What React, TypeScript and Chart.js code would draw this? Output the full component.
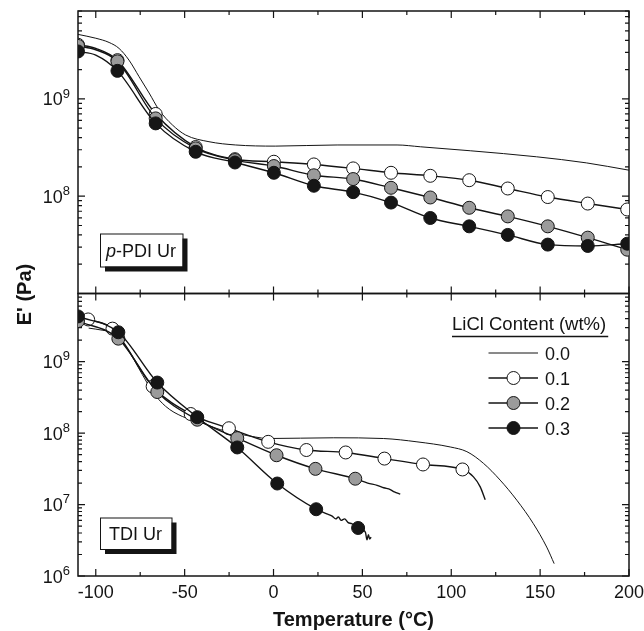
import { useEffect, useRef } from 'react';
import { Chart, registerables } from 'chart.js';

Chart.register(...registerables);

const FONT = '"Liberation Sans", Arial, Helvetica, sans-serif';

// ---- axes ----
const xMin = -110;
const xMax = 200;
const xTicksMajor = [-100, -50, 0, 50, 100, 150, 200];
const xTicksMinor = [-75, -25, 25, 75, 125, 175];
const topYMin = 1e7;
const topYMax = 8e9;
const botYMin = 1e6;
const botYMax = 9e9;
const topExponents = [8, 9];
const botExponents = [6, 7, 8, 9];

// ---- legend ----
const legendTitle = 'LiCl Content (wt%)';
const seriesLabels = ['0.0', '0.1', '0.2', '0.3'];
const seriesFills = ['', '#ffffff', '#9b9b9b', '#161616'];

// ---- top panel: p-PDI Ur ----
const topTemp00 = [-110, -100, -92.5, -86.9, -81.3, -75.7, -70, -64.4, -56.9, -49.4, -36.3, -21.3, 1, 35.8, 69.5, 82.6, 110.7, 148, 176, 200];
const topE00 = [4.6e9, 4.2e9, 3.8e9, 3.3e9, 2.5e9, 1.7e9, 1.15e9, 7.7e8, 5.4e8, 4.25e8, 3.63e8, 3.36e8, 3.27e8, 3.36e8, 3.36e8, 3.22e8, 2.93e8, 2.54e8, 2.2e8, 1.85e8];

const topTemp = [-110, -100, -87.8, -66.3, -43.8, -21.7, 0.2, 22.7, 44.8, 66.1, 88.2, 110.1, 131.8, 154.3, 176.8, 199];
const topMarkers = [0, 2, 3, 4, 5, 6, 7, 8, 9, 10, 11, 12, 13, 14, 15];
const topE01 = [3.6e9, 3.3e9, 2.5e9, 7.0e8, 3.2e8, 2.4e8, 2.26e8, 2.12e8, 1.93e8, 1.74e8, 1.62e8, 1.46e8, 1.2e8, 9.8e7, 8.4e7, 7.3e7];
const topE02 = [3.5e9, 3.2e9, 2.43e9, 6.3e8, 3.1e8, 2.35e8, 2.04e8, 1.64e8, 1.5e8, 1.22e8, 9.7e7, 7.6e7, 6.2e7, 4.9e7, 3.75e7, 2.82e7];
const topE03 = [3.07e9, 2.82e9, 1.94e9, 5.6e8, 2.86e8, 2.22e8, 1.74e8, 1.28e8, 1.1e8, 8.6e7, 5.97e7, 4.9e7, 4.0e7, 3.18e7, 3.08e7, 3.25e7];

// ---- bottom panel: TDI Ur ----
const botTemp00 = [-104, -96, -90.6, -83.1, -73.8, -68.2, -60.7, -51.3, -43.8, -30, -20, -10, -3.5, 33.9, 62, 80.7, 99.4, 108.8, 118.2, 127.5, 136.9, 146.2, 153.7, 157.9];
const botE00 = [2.95e9, 2.75e9, 2.55e9, 1.64e9, 6.6e8, 3.85e8, 2.37e8, 1.71e8, 1.5e8, 1.12e8, 9.8e7, 8.8e7, 8.4e7, 8.6e7, 8.4e7, 7.55e7, 6.4e7, 5.5e7, 3.76e7, 2.2e7, 1.15e7, 5.4e6, 2.54e6, 1.49e6];

const botTemp01 = [-104.3, -90.6, -68, -46.6, -25.1, -3, 18.5, 40.6, 62.4, 84.1, 106.3, 112.5, 116.3, 119.1];
const botE01 = [3.9e9, 2.9e9, 4.5e8, 1.85e8, 1.17e8, 7.55e7, 5.8e7, 5.36e7, 4.4e7, 3.64e7, 3.1e7, 2.44e7, 1.77e7, 1.17e7];
const botMarkers01 = [0, 1, 2, 3, 4, 5, 6, 7, 8, 9, 10];

const botTemp02 = [-110, -87.3, -65.4, -42.9, -20.4, 1.7, 23.6, 46, 53, 58.3, 62, 65.7, 68, 71.3];
const botE02 = [3.7e9, 2.1e9, 3.76e8, 1.54e8, 8.5e7, 4.9e7, 3.16e7, 2.3e7, 2.0e7, 1.86e7, 1.72e7, 1.62e7, 1.5e7, 1.4e7];
const botMarkers02 = [0, 1, 2, 3, 4, 5, 6, 7];

const botTemp03 = [-110, -87.3, -65.4, -42.9, -20.4, 2.1, 24, 30, 33, 35, 36.5, 38, 40, 42, 44, 47.6, 50, 51.7, 52.6, 53.4, 54.1, 54.9];
const botE03 = [4.3e9, 2.58e9, 5.1e8, 1.67e8, 6.3e7, 1.97e7, 8.6e6, 7.4e6, 6.9e6, 6.3e6, 6.7e6, 6.0e6, 6.3e6, 5.6e6, 5.4e6, 4.7e6, 4.4e6, 4.1e6, 3.2e6, 3.8e6, 3.3e6, 3.5e6];
const botMarkers03 = [0, 1, 2, 3, 4, 5, 6, 15];

const MARKER_R = 6.5;

function makeDataset(label: string, xs: number[], ys: number[], axis: string, fill: string, markers: number[], order: number, width: number) {
  const mk = new Set(markers);
  return {
    label,
    data: xs.map((x, i) => ({ x, y: ys[i] })),
    yAxisID: axis,
    xAxisID: 'x',
    borderColor: '#141414',
    borderWidth: width,
    backgroundColor: fill || '#141414',
    pointBackgroundColor: fill || '#141414',
    pointBorderColor: '#141414',
    pointBorderWidth: 1,
    pointRadius: (c: any) => (mk.has(c.dataIndex) ? MARKER_R : 0),
    pointHoverRadius: (c: any) => (mk.has(c.dataIndex) ? MARKER_R : 0),
    pointHitRadius: 0,
    cubicInterpolationMode: 'monotone' as const,
    fill: false,
    order,
  };
}

function drawPow(ctx: CanvasRenderingContext2D, exp: number, rightX: number, y: number) {
  ctx.textAlign = 'left';
  ctx.textBaseline = 'alphabetic';
  ctx.font = `13px ${FONT}`;
  const supW = ctx.measureText(String(exp)).width;
  ctx.font = `18px ${FONT}`;
  const baseW = ctx.measureText('10').width;
  const supX = rightX - supW;
  ctx.fillText('10', supX - baseW, y + 6.5);
  ctx.font = `13px ${FONT}`;
  ctx.fillText(String(exp), supX, y - 1.2);
}

function labelBox(ctx: CanvasRenderingContext2D, x: number, y: number, w: number, h: number, draw: () => void) {
  ctx.fillStyle = '#141414';
  ctx.fillRect(x + 5, y + 5, w, h);
  ctx.fillStyle = '#ffffff';
  ctx.fillRect(x, y, w, h);
  ctx.strokeStyle = '#141414';
  ctx.lineWidth = 1;
  ctx.strokeRect(x + 0.5, y + 0.5, w, h);
  ctx.fillStyle = '#141414';
  draw();
}

const decorPlugin = {
  id: 'decor',
  beforeDatasetsDraw(chart: any) {
    const ctx: CanvasRenderingContext2D = chart.ctx;
    const xs = chart.scales.x;
    const panels = [chart.scales.yTop, chart.scales.yBot];
    ctx.save();
    ctx.strokeStyle = '#141414';
    for (const ys of panels) {
      const top = ys.top;
      const bottom = ys.bottom;
      const left = xs.left;
      const right = xs.right;
      ctx.lineWidth = 1.5;
      ctx.strokeRect(left, top, right - left, bottom - top);
      ctx.lineWidth = 1.2;
      ctx.beginPath();
      const xt = (vals: number[], len: number) => {
        for (const t of vals) {
          const px = xs.getPixelForValue(t);
          ctx.moveTo(px, bottom);
          ctx.lineTo(px, bottom - len);
          ctx.moveTo(px, top);
          ctx.lineTo(px, top + len);
        }
      };
      xt(xTicksMajor, 7);
      xt(xTicksMinor, 4);
      const e0 = Math.floor(Math.log10(ys.min));
      const e1 = Math.ceil(Math.log10(ys.max));
      for (let e = e0; e <= e1; e++) {
        for (let k = 1; k <= 9; k++) {
          const v = k * Math.pow(10, e);
          if (v < ys.min * 0.999 || v > ys.max * 1.001) continue;
          const py = ys.getPixelForValue(v);
          const len = k === 1 ? 7 : 4;
          ctx.moveTo(left, py);
          ctx.lineTo(left + len, py);
          ctx.moveTo(right, py);
          ctx.lineTo(right - len, py);
        }
      }
      ctx.stroke();
    }
    ctx.restore();
  },
  afterDraw(chart: any) {
    const ctx: CanvasRenderingContext2D = chart.ctx;
    const xs = chart.scales.x;
    const yTop = chart.scales.yTop;
    const yBot = chart.scales.yBot;
    ctx.save();
    ctx.fillStyle = '#141414';
    // x tick labels
    ctx.font = `18px ${FONT}`;
    ctx.textAlign = 'center';
    ctx.textBaseline = 'alphabetic';
    for (const t of xTicksMajor) {
      ctx.fillText(String(t), xs.getPixelForValue(t), yBot.bottom + 22);
    }
    // y tick labels
    const labelRight = xs.left - 8;
    for (const e of topExponents) drawPow(ctx, e, labelRight, yTop.getPixelForValue(Math.pow(10, e)));
    for (const e of botExponents) drawPow(ctx, e, labelRight, yBot.getPixelForValue(Math.pow(10, e)));
    // axis titles
    ctx.font = `bold 20px ${FONT}`;
    ctx.textAlign = 'center';
    ctx.textBaseline = 'alphabetic';
    ctx.fillText('Temperature (°C)', (xs.left + xs.right) / 2, yBot.bottom + 50);
    ctx.save();
    ctx.translate(31, (yTop.top + yBot.bottom) / 2 + 1);
    ctx.rotate(-Math.PI / 2);
    ctx.fillText("E' (Pa)", 0, 0);
    ctx.restore();

    // panel labels
    labelBox(ctx, 100, 233.5, 82.5, 33, () => {
      ctx.textAlign = 'left';
      ctx.textBaseline = 'alphabetic';
      ctx.font = `italic 18px ${FONT}`;
      ctx.fillText('p', 106, 256.5);
      const w = ctx.measureText('p').width;
      ctx.font = `18px ${FONT}`;
      ctx.fillText('-PDI Ur', 106 + w, 256.5);
    });
    labelBox(ctx, 100, 517.5, 71.5, 31.5, () => {
      ctx.textAlign = 'left';
      ctx.textBaseline = 'alphabetic';
      ctx.font = `18px ${FONT}`;
      ctx.fillText('TDI Ur', 109, 540);
    });

    // legend
    ctx.font = `18.5px ${FONT}`;
    ctx.textAlign = 'left';
    ctx.fillStyle = '#141414';
    ctx.fillText(legendTitle, 452, 330);
    const tw = ctx.measureText(legendTitle).width;
    ctx.strokeStyle = '#141414';
    ctx.lineWidth = 1.3;
    ctx.beginPath();
    ctx.moveTo(452, 336.5);
    ctx.lineTo(452 + tw + 2, 336.5);
    ctx.stroke();
    const rows = [353, 378, 403, 428];
    ctx.font = `18px ${FONT}`;
    seriesLabels.forEach((lab, i) => {
      const ry = rows[i];
      ctx.lineWidth = i === 0 ? 1 : 1.4;
      ctx.beginPath();
      ctx.moveTo(488.5, ry);
      ctx.lineTo(538, ry);
      ctx.stroke();
      if (seriesFills[i]) {
        ctx.beginPath();
        ctx.arc(513.5, ry, MARKER_R, 0, Math.PI * 2);
        ctx.fillStyle = seriesFills[i];
        ctx.fill();
        ctx.lineWidth = 1;
        ctx.stroke();
      }
      ctx.fillStyle = '#141414';
      ctx.fillText(lab, 545, ry + 6.5);
    });
    ctx.restore();
  },
};

export default function App() {
  const ref = useRef<HTMLCanvasElement>(null);
  useEffect(() => {
    const canvas = ref.current;
    if (!canvas) return;
    const hidden = {
      ticks: { display: false },
      grid: { display: false, drawTicks: false },
      border: { display: false },
      title: { display: false },
    };
    const chart = new Chart(canvas, {
      type: 'line',
      data: {
        datasets: [
          makeDataset('0.0', topTemp00, topE00, 'yTop', '', [], 3, 1),
          makeDataset('0.1', topTemp, topE01, 'yTop', seriesFills[1], topMarkers, 2, 1.4),
          makeDataset('0.2', topTemp, topE02, 'yTop', seriesFills[2], topMarkers, 1, 1.4),
          makeDataset('0.3', topTemp, topE03, 'yTop', seriesFills[3], topMarkers, 0, 1.4),
          makeDataset('0.0', botTemp00, botE00, 'yBot', '', [], 3, 1),
          makeDataset('0.1', botTemp01, botE01, 'yBot', seriesFills[1], botMarkers01, 2, 1.4),
          makeDataset('0.2', botTemp02, botE02, 'yBot', seriesFills[2], botMarkers02, 1, 1.4),
          makeDataset('0.3', botTemp03, botE03, 'yBot', seriesFills[3], botMarkers03, 0, 1.4),
        ] as any,
      },
      options: {
        animation: false,
        responsive: false,
        devicePixelRatio: 1,
        events: [],
        layout: { padding: { left: 78, right: 15, top: 11, bottom: 55 } },
        plugins: { legend: { display: false }, tooltip: { enabled: false } },
        scales: {
          x: { type: 'linear', min: xMin, max: xMax, position: 'bottom', ...hidden },
          yBot: { type: 'logarithmic', min: botYMin, max: botYMax, position: 'left', stack: 'panels', stackWeight: 1, weight: 1, ...hidden },
          yTop: { type: 'logarithmic', min: topYMin, max: topYMax, position: 'left', stack: 'panels', stackWeight: 1, weight: 2, ...hidden },
        } as any,
      },
      plugins: [decorPlugin],
    });
    return () => chart.destroy();
  }, []);
  return (
    <div style={{ position: 'fixed', left: 0, top: 0, width: 644, height: 631, background: '#ffffff' }}>
      <canvas ref={ref} width={644} height={631} style={{ display: 'block', width: 644, height: 631 }} />
    </div>
  );
}
